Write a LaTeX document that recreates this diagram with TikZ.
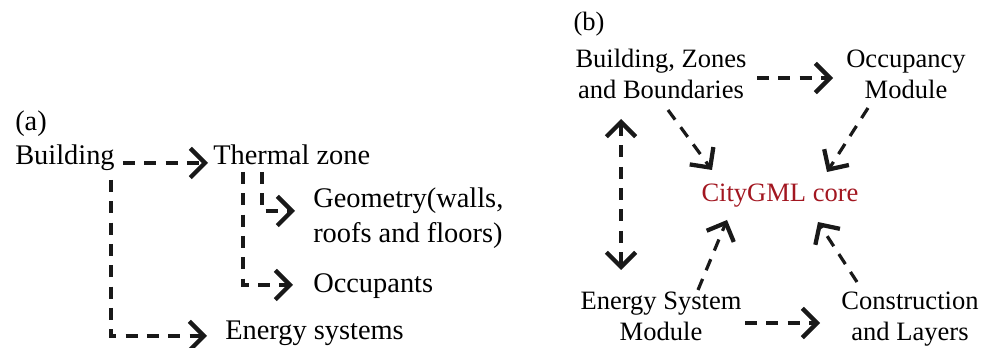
\documentclass[tikz,border=0pt]{standalone}
\usepackage{fontspec}
\setmainfont{Liberation Serif}
\usepackage{tikz}
\usetikzlibrary{arrows.meta, positioning, calc}

\definecolor{coreRed}{RGB}{162,22,32}

\begin{document}
\begin{tikzpicture}[
  x=0.75pt, y=-0.75pt,
  >={Straight Barb[length=11pt,width=22pt,line width=3.2pt]},
  txtA/.style={inner sep=0pt, anchor=base west, font=\fontsize{21.3}{26.3}\selectfont, align=left},
  txtB/.style={inner sep=0pt, anchor=base, font=\fontsize{19.9}{23.3}\selectfont, align=center},
  flow/.style={->, line width=2.4pt, black!90, dash pattern=on 9pt off 7pt},
  flowboth/.style={<->, line width=2.4pt, black!90, dash pattern=on 9pt off 7pt}
]
\useasboundingbox (0,0) rectangle (982,348);

% (a) Building hierarchy
\node[txtA] (labA) at (15,131) {(a)};
\node[txtA] (bld)  at (15,165) {Building};
\node[txtA] (tz)   at (213,165) {Thermal zone};
\node[txtA] (geo)  at (313,243) {Geometry(walls,\\roofs and floors)};
\node[txtA] (occ)  at (313,293) {Occupants};
\node[txtA] (ensys) at (225,340) {Energy systems};

% (b) CityGML modules
\node[txtB] (labB) at (589,31) {(b)};
\node[txtB] (bzb)  at (661,99) {Building, Zones\\and Boundaries};
\node[txtB] (occm) at (906,99) {Occupancy\\Module};
\node[txtB, text=coreRed] (core) at (780,202) {CityGML core};
\node[txtB] (esm)  at (661,341) {Energy System\\Module};
\node[txtB] (cal)  at (910,341) {Construction\\and Layers};

% Flows (a)
\draw[flow] ($(bld.base east)+(8,-2)$) -- ($(tz.base west)+(-5,-2)$);
\draw[flow] ($(bld.base east)+(-4,15)$) |- ($(ensys.base west)+(-18,-4)$);
\draw[flow] ($(tz.base west)+(49,7)$) |- ($(geo.base west)+(-18,-32)$);
\draw[flow] ($(tz.base west)+(30,7)$) |- ($(occ.base west)+(-20,-8)$);

% Flows (b)
\draw[flow] ($(bzb.base)+(96,-21)$) -- ($(occm.base)+(-73,-21)$);
\draw[flowboth] ($(bzb.base)+(-40,20)$) -- ($(esm.base)+(-40,-71)$);
\draw[flow] ($(bzb.base)+(7,11)$) -- ($(core.base)+(-68,-32)$);
\draw[flow] ($(occm.base)+(-38,9)$) -- ($(core.base)+(47,-30)$);
\draw[flow] ($(esm.base)+(37,-51)$) -- ($(core.base)+(-53,18)$);
\draw[flow] ($(cal.base)+(-53,-59)$) -- ($(core.base)+(38,20)$);
\draw[flow] ($(esm.base)+(84,-18)$) -- ($(cal.base)+(-90,-18)$);

\end{tikzpicture}
\end{document}
